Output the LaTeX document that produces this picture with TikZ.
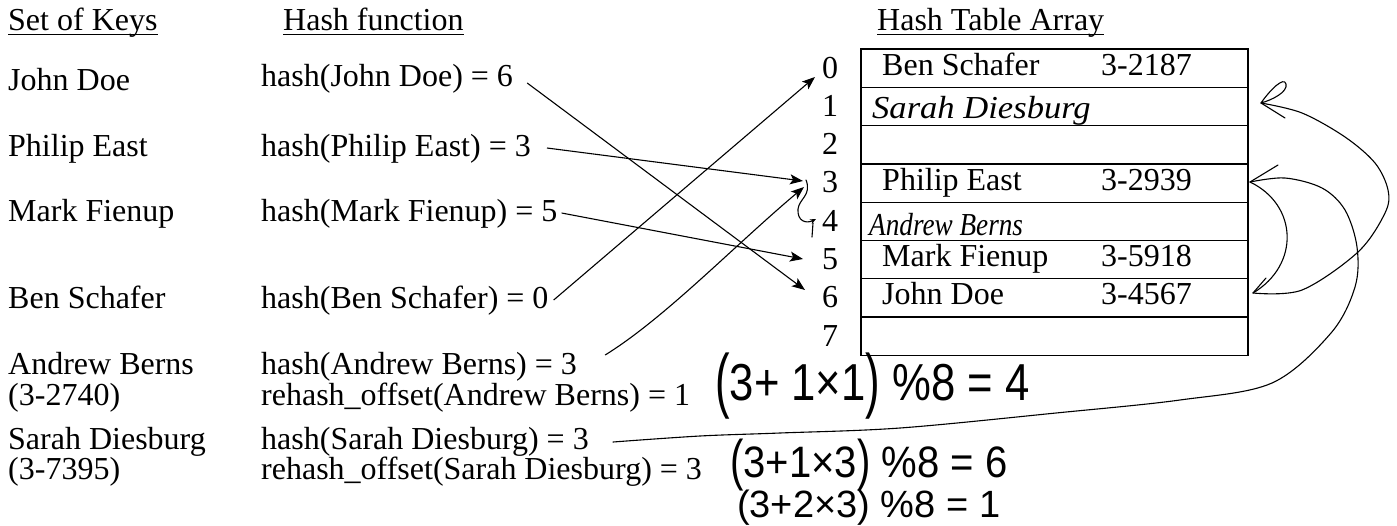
\documentclass[tikz,border=0pt]{standalone}
\usepackage{fontspec}
\setmainfont{Liberation Serif}
\newfontfamily\hwsans{Liberation Sans}
\usetikzlibrary{arrows.meta}
\begin{document}
\begin{tikzpicture}[x=1pt,y=-1pt,
  txt/.style={anchor=base west, inner sep=0pt, font=\fontsize{32}{32}\selectfont},
  num/.style={anchor=base, inner sep=0pt, font=\fontsize{32}{32}\selectfont},
  hand/.style={anchor=base west, inner sep=0pt, font=\fontsize{32}{32}\selectfont\itshape},
  calc/.style={anchor=base west, inner sep=0pt},
  cell/.style={draw, line width=1.3pt, minimum width=387pt, minimum height=38.3pt, inner sep=0pt},
  ptr/.style={line width=1.1pt, -{Stealth[length=13pt,width=10pt,inset=3pt]}},
  pen/.style={line width=1.1pt, line cap=round, line join=round},
  uline/.style={line width=1pt}]
\useasboundingbox (0,0) rectangle (1397,525);

% headers
\node[txt] (hk) at (8,30) {Set of Keys};
\node[txt] (hf) at (283,30) {Hash function};
\node[txt] (ht) at (877,30) {Hash Table Array};
\draw[uline] ([yshift=-4pt]hk.base west) -- ([yshift=-4pt]hk.base east);
\draw[uline] ([yshift=-4pt]hf.base west) -- ([yshift=-4pt]hf.base east);
\draw[uline] ([yshift=-4pt]ht.base west) -- ([yshift=-4pt]ht.base east);

% keys
\node[txt] (k1) at (8,90) {John Doe};
\node[txt] (k2) at (8,156) {Philip East};
\node[txt] (k3) at (8,221) {Mark Fienup};
\node[txt] (k4) at (8,308) {Ben Schafer};
\node[txt] (k5) at (8,374) {Andrew Berns};
\node[txt] (k5b) at (8,405) {(3-2740)};
\node[txt] (k6) at (8,449) {Sarah Diesburg};
\node[txt] (k6b) at (8,479) {(3-7395)};

% hash function
\node[txt] (h1) at (261,86) {hash(John Doe) = 6};
\node[txt] (h2) at (261,156) {hash(Philip East) = 3};
\node[txt] (h3) at (261,221) {hash(Mark Fienup) = 5};
\node[txt] (h4) at (261,308) {hash(Ben Schafer) = 0};
\node[txt] (h5) at (261,374) {hash(Andrew Berns) = 3};
\node[txt] (h5b) at (261,405) {rehash\_offset(Andrew Berns) = 1};
\node[txt] (h6) at (261,449) {hash(Sarah Diesburg) = 3};
\node[txt] (h6b) at (261,479) {rehash\_offset(Sarah Diesburg) = 3};

% table
\foreach \i in {0,...,7} {
  \node[cell] (c\i) at (1054.5, {49+38.3*\i+19.15}) {};
  \node[num] (n\i) at (830, {78+38.3*\i}) {\i};
}
\node[txt] (e0a) at (882,75) {Ben Schafer};
\node[txt] (e0b) at (1101,75) {3-2187};
\node[hand] (e1) at (872,118) {\scalebox{1.08}[1]{Sarah Diesburg}};
\node[txt] (e3a) at (882,190) {Philip East};
\node[txt] (e3b) at (1101,190) {3-2939};
\node[hand] (e4) at (869,235) {\scalebox{0.85}[1]{Andrew Berns}};
\node[txt] (e5a) at (882,266) {Mark Fienup};
\node[txt] (e5b) at (1101,266) {3-5918};
\node[txt] (e6a) at (882,304) {John Doe};
\node[txt] (e6b) at (1101,304) {3-4567};

% arrow targets
\coordinate (t0) at (815,77);
\coordinate (t3a) at (803,181);
\coordinate (t3b) at (804,187);
\coordinate (t5) at (803,259);
\coordinate (t6) at (805,290);

\draw[ptr] ([xshift=14pt,yshift=3pt]h1.base east) -- (t6);
\draw[ptr] ([xshift=16pt,yshift=8pt]h2.base east) -- (t3a);
\draw[ptr] ([xshift=4pt,yshift=8pt]h3.base east) -- (t5);
\draw[ptr] ([xshift=5pt,yshift=8pt]h4.base east) -- (t0);
\draw[ptr] ([xshift=28pt,yshift=19pt]h5.base east) .. controls (665,318) and (735,245) .. (t3b);

% hook 3 -> 4
\draw[pen,-{Stealth[length=6pt,width=5pt]}] (806,180) .. controls (812,195) and (799,199) .. (798,209) .. controls (797,221) and (806,224) .. (816,219);
\draw[pen] (813,223) -- (812,237);

% formulas (handwritten)
\node[calc] (f1) at (715,400) {\hwsans\fontsize{52}{52}\selectfont\scalebox{0.84}[1]{\raisebox{-4pt}{\scalebox{1}[1.37]{(}}3+ 1×1\raisebox{-4pt}{\scalebox{1}[1.37]{)}} \%8 = 4}};
\node[calc] (f2) at (730,477) {\hwsans\fontsize{44}{44}\selectfont\scalebox{0.91}[1]{\raisebox{-2pt}{\scalebox{1}[1.27]{(}}3+1×3\raisebox{-2pt}{\scalebox{1}[1.27]{)}} \%8 = 6}};
\node[calc] (f3) at (737,517) {\hwsans\fontsize{38}{38}\selectfont (3+2×3) \%8 = 1};

% right-side handwritten arcs
\coordinate (r1) at (1261,103);
\coordinate (r3) at (1250,182);
\coordinate (r6) at (1253,293);

% Sarah: hash -> 3
\draw[pen] plot[smooth, tension=0.55] coordinates {([xshift=24pt,yshift=7pt]h6.base east) (700,436) (780,433) (900,428) (1056,413) (1180,400) (1272,383) (1331,333) (1355,287) (1357,247) (1345,210) (1322,188) (1285,178) (r3)};
\draw[pen] (1278,165) -- (r3);
% 3 -> 6
\draw[pen] (r3) .. controls (1298,205) and (1300,265) .. (r6);
\draw[pen] (1266,278) -- (r6);
% 6 -> 1
\draw[pen] plot[smooth, tension=0.55] coordinates {(r6) (1302,290) (1358,252) (1385,213) (1388,190) (1375,163) (1345,137) (1302,113) (r1)};
\draw[pen] (r1) .. controls (1270,90) and (1284,76) .. (1286,84) .. controls (1288,92) and (1272,100) .. (r1);
\draw[pen] (r1) -- (1285,118);

\end{tikzpicture}
\end{document}
